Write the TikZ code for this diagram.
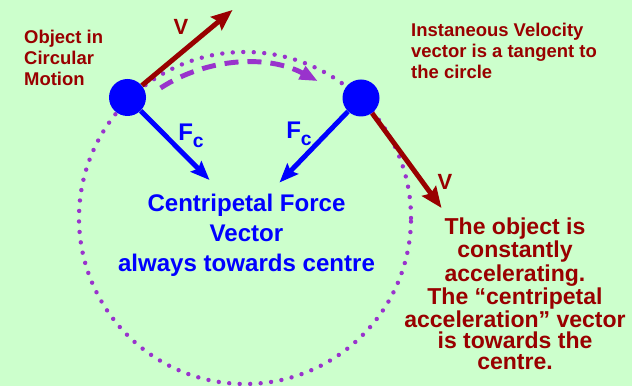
\documentclass[tikz,border=0pt]{standalone}
\usepackage{fontspec}
\setmainfont{Liberation Sans}
\usetikzlibrary{arrows.meta}
\definecolor{mint}{HTML}{CCFFCC}
\definecolor{orbit}{HTML}{9933CC}
\definecolor{velred}{HTML}{990000}
\definecolor{pull}{HTML}{0000FF}

\begin{document}
\begin{tikzpicture}[font=\bfseries,
  ball/.style={circle,fill=pull,minimum size=0.74cm,inner sep=0pt},
  velarrow/.style={velred,line width=2.8pt,-{Stealth[length=0.42cm,width=0.34cm,inset=0.06cm]}},
  pullarrow/.style={pull,line width=2.8pt,-{Stealth[length=0.38cm,width=0.3cm,inset=0.06cm]}},
  fclabel/.style={pull,font=\fontsize{13.7}{14}\selectfont\bfseries}]
\fill[mint] (0,0) rectangle (12.64,7.72);
\useasboundingbox (0,0) rectangle (12.64,7.72);
% path of the object
\coordinate (centre) at (4.9,3.36);
\draw[orbit,line width=2.5pt,line cap=round,dash pattern=on 0pt off 0.21cm] (centre) circle[radius=3.32];
\draw[orbit,line width=2.8pt,dash pattern=on 0.28cm off 0.18cm,-{Triangle[length=0.36cm,width=0.28cm]}]
  (centre) ++(123:3.1) arc[start angle=123,end angle=62,radius=3.1];
% the object, twice
\node[ball] (obj1) at (2.55,5.77) {};
\node[ball] (obj2) at (7.22,5.76) {};
\coordinate (v1tip) at (4.65,7.52);
\coordinate (v2tip) at (8.83,3.56);
\coordinate (f1tip) at (4.19,4.12);
\coordinate (f2tip) at (5.59,4.07);
\draw[velarrow] (obj1) -- (v1tip);
\draw[velarrow] (obj2) -- (v2tip);
\draw[pullarrow] (obj1) -- (f1tip);
\draw[pullarrow] (obj2) -- (f2tip);
\node[velred,font=\fontsize{12.5}{13}\selectfont\bfseries] (v1) at (3.62,7.18) {V};
\node[velred,font=\fontsize{12.5}{13}\selectfont\bfseries] (v2) at (8.9,4.08) {V};
\node[fclabel] (fc1) at (3.82,5.0) {F\raisebox{-0.5ex}{\fontsize{11}{11}\selectfont c}};
\node[fclabel] (fc2) at (5.98,5.04) {F\raisebox{-0.5ex}{\fontsize{11}{11}\selectfont c}};
% texts
\node[velred,align=left,anchor=west,font=\fontsize{10.5}{12}\selectfont\bfseries] (motion) at (0.36,6.56)
 {Object in\\Circular\\Motion};
\node[velred,align=left,anchor=west,font=\fontsize{10.5}{12}\selectfont\bfseries] (tangent) at (8.1,6.70)
 {Instaneous Velocity\\vector is a tangent to\\the circle};
\node[pull,align=center,font=\fontsize{13.7}{17}\selectfont\bfseries] (force) at (4.93,3.02)
 {Centripetal Force\\Vector\\always towards centre};
\node[velred,align=center,font=\fontsize{13.1}{12}\selectfont\bfseries] (accel) at (10.3,1.84)
 {The object is\\constantly\\accelerating.\\The “centripetal\\acceleration” vector\\is towards the\\centre.};
\end{tikzpicture}
\end{document}
